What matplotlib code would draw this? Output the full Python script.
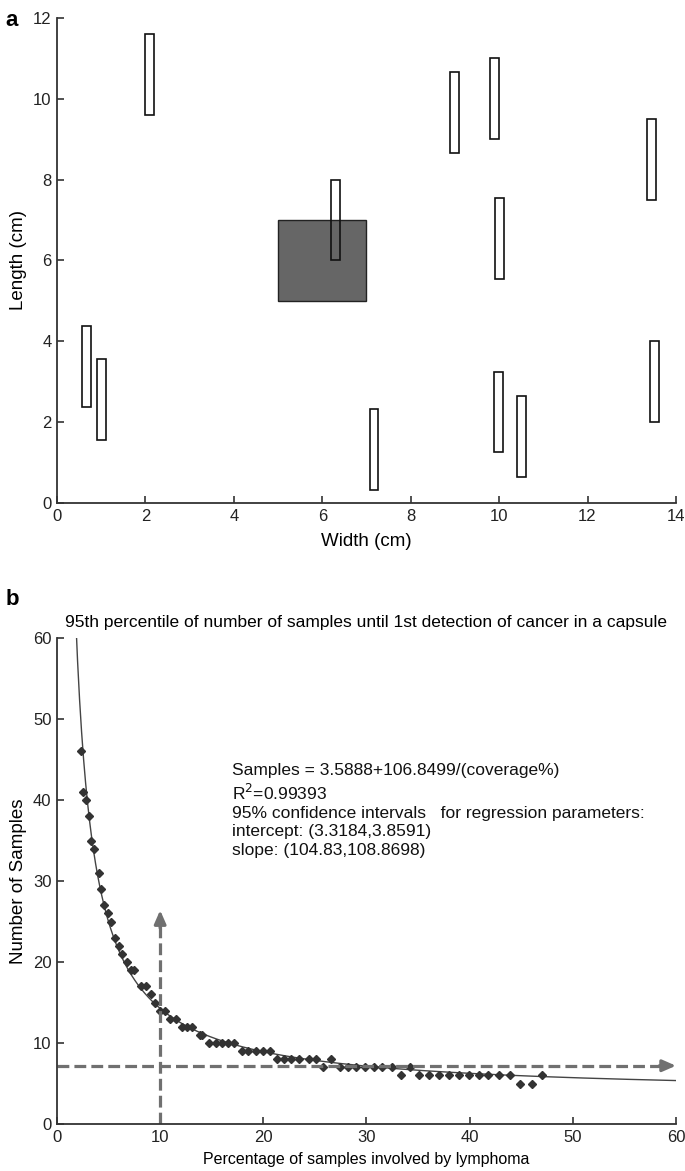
import numpy as np
import matplotlib
matplotlib.use('Agg')
import matplotlib.pyplot as plt
from matplotlib.patches import Rectangle

plt.rcParams['font.family'] = ['Liberation Sans', 'DejaVu Sans']

# panel a: sample cores (x, y of lower left corner, width, height) in cm
core_x = [2.0, 6.2, 8.9, 9.8, 13.35, 9.9, 0.57, 0.9, 7.07, 9.88, 10.4, 13.42]
core_y = [9.6, 6.0, 8.65, 9.0, 7.5, 5.55, 2.37, 1.56, 0.33, 1.25, 0.65, 2.0]
core_w = 0.2
core_h = 2.0
# lymphoma region
tumor_x, tumor_y, tumor_w, tumor_h = 5.0, 5.0, 2.0, 2.0

# panel b: simulated 95th percentile samples
cov = [2.36, 2.55, 2.78, 3.07, 3.29, 3.59, 4.04, 4.26, 4.58, 4.94, 5.2, 5.65,
       6.0, 6.3, 6.75, 7.14, 7.49, 8.14, 8.6, 9.1, 9.5, 10.0, 10.5, 11.0,
       11.5, 12.1, 12.6, 13.1, 13.9, 14.1, 14.75, 15.4, 16.0, 16.6, 17.2,
       17.95, 18.5, 19.3, 20.0, 20.6, 21.3, 22.0, 22.7, 23.5, 24.4, 25.1,
       25.8, 26.6, 27.4, 28.2, 29.0, 29.9, 30.7, 31.5, 32.5, 33.3, 34.2,
       35.1, 36.1, 37.0, 38.0, 39.0, 39.9, 40.9, 41.8, 42.8, 43.9, 44.9,
       46.0, 47.0]
samples = [46, 41, 40, 38, 35, 34, 31, 29, 27, 26, 25, 23,
           22, 21, 20, 19, 19, 17, 17, 16, 15, 14, 14, 13,
           13, 12, 12, 12, 11, 11, 10, 10, 10, 10, 10,
           9, 9, 9, 9, 9, 8, 8, 8, 8, 8, 8,
           7, 8, 7, 7, 7, 7, 7, 7, 7, 6, 7,
           6, 6, 6, 6, 6, 6, 6, 6, 6, 6, 5,
           5, 6]
intercept = 3.5888
slope = 106.8499
ref_cov = 10
ref_samples = 7.2
arrow_top = 26.4

axis_col = '#333333'
dash_col = '#707070'

fig = plt.figure(figsize=(6.85, 11.71), dpi=100)


def matlab_axes(ax):
    for s in ['top', 'right']:
        ax.spines[s].set_visible(False)
    for s in ['left', 'bottom']:
        ax.spines[s].set_color(axis_col)
        ax.spines[s].set_linewidth(1.3)
    ax.tick_params(direction='in', length=5, width=1.2, color=axis_col,
                   labelsize=12, labelcolor='#222222', pad=4)


# ---- panel a
ax1 = fig.add_axes([0.0832, 0.5705, 0.9036, 0.4142])
ax1.add_patch(Rectangle((tumor_x, tumor_y), tumor_w, tumor_h,
                        facecolor='#666666', edgecolor='#222222', lw=1.0))
for x, y in zip(core_x, core_y):
    ax1.add_patch(Rectangle((x, y), core_w, core_h, fill=False,
                            edgecolor='#111111', lw=1.2))
ax1.set_xlim(0, 14)
ax1.set_ylim(0, 12)
ax1.set_xticks(range(0, 15, 2))
ax1.set_yticks(range(0, 13, 2))
matlab_axes(ax1)
ax1.set_xlabel('Width (cm)', fontsize=13.5, labelpad=7)
ax1.set_ylabel('Length (cm)', fontsize=13.5, labelpad=4)
fig.text(0.008, 0.978, 'a', fontsize=16, fontweight='bold')

# ---- panel b
ax2 = fig.add_axes([0.0832, 0.0401, 0.9036, 0.415])
xs = np.linspace(1.8, 60, 600)
ax2.plot(xs, intercept + slope / xs, color='#444444', lw=1.0)
ax2.plot(cov, samples, 'D', color='#333333', markersize=4, lw=0)
ax2.plot([0, 58.6], [ref_samples, ref_samples], '--', color=dash_col, lw=2.3)
ax2.annotate('', xy=(60, ref_samples), xytext=(58.4, ref_samples),
             arrowprops=dict(arrowstyle='-|>,head_length=0.8,head_width=0.35',
                             color=dash_col, lw=2.3, shrinkA=0, shrinkB=0))
ax2.plot([ref_cov, ref_cov], [0, arrow_top - 1.6], '--', color=dash_col, lw=2.3)
ax2.annotate('', xy=(ref_cov, arrow_top), xytext=(ref_cov, arrow_top - 2.2),
             arrowprops=dict(arrowstyle='-|>,head_length=0.8,head_width=0.35',
                             color=dash_col, lw=2.3, shrinkA=0, shrinkB=0))
ax2.set_xlim(0, 60)
ax2.set_ylim(0, 60)
ax2.set_xticks(range(0, 61, 10))
ax2.set_yticks(range(0, 61, 10))
matlab_axes(ax2)
ax2.set_xlabel('Percentage of samples involved by lymphoma', fontsize=11.5, labelpad=5)
ax2.set_ylabel('Number of Samples', fontsize=13.5, labelpad=4)
ax2.set_title('95th percentile of number of samples until 1st detection of cancer in a capsule',
              fontsize=12.5, pad=8)
fit_text = ('Samples = 3.5888+106.8499/(coverage%)\n'
            'R$^2$=0.99393\n'
            '95% confidence intervals   for regression parameters:\n'
            'intercept: (3.3184,3.8591)\n'
            'slope: (104.83,108.8698)')
ax2.text(17.0, 44.6, fit_text, fontsize=12.5, va='top', ha='left',
         linespacing=1.28, color='#111111')
fig.text(0.008, 0.483, 'b', fontsize=16, fontweight='bold')

fig.savefig('out.png', dpi=100)
